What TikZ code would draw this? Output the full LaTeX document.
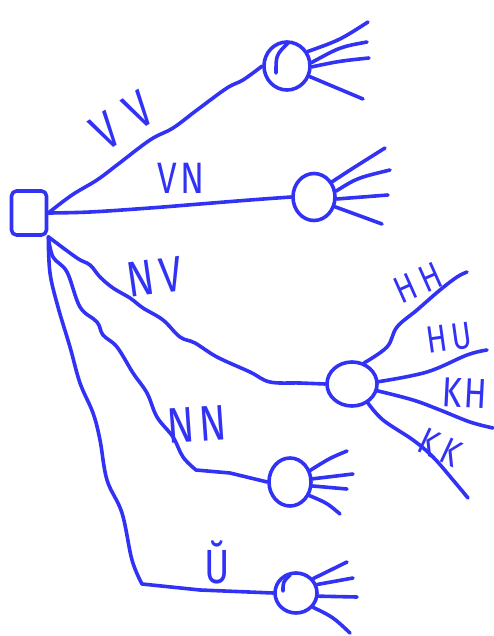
\documentclass[tikz,border=0pt]{standalone}
\usepackage{fontspec}
\setmainfont{Fira Sans}
\newfontfamily\hand{Fira Sans}[FakeStretch=0.8]
\usetikzlibrary{shapes.geometric}
\definecolor{ink}{RGB}{50,50,245}
\begin{document}
\begin{tikzpicture}[x=1pt,y=-1pt,line width=3.6pt,line cap=round,line join=round,
  hub/.style={draw=ink,ellipse,inner sep=0pt},
  branch/.style={draw=ink},
  ray/.style={draw=ink},
  lbl/.style={text=ink,font=\hand\fontsize{#1}{#1}\selectfont,inner sep=0pt}]
\useasboundingbox (0,0) rectangle (494,636);

% decision node
\node[draw=ink,rectangle,rounded corners=5pt,minimum width=35pt,minimum height=44pt] (root) at (29,213) {};

% chance nodes
\node[hub,minimum width=46pt,minimum height=48pt] (c1) at (287,66) {};
\node[hub,minimum width=42pt,minimum height=47pt] (c2) at (314,197) {};
\node[hub,minimum width=50pt,minimum height=44pt] (c3) at (352,384) {};
\node[hub,minimum width=42pt,minimum height=48pt] (c4) at (290,482) {};
\node[hub,minimum width=42pt,minimum height=40pt] (c5) at (296,593) {};

% small pen strokes inside the circles
\draw[ink] (276,73) .. controls (276,55) .. (288,43);
\draw[ink] (283,591) .. controls (283,582) .. (290,575);

% first-level branches
\draw[branch] plot[smooth,tension=0.6] coordinates {(root.east) (72,195) (97,180) (117,165) (150,140) (173,128) (197,110) (227,88) (243,80) (c1.west)};
\draw[branch] plot[smooth,tension=0.6] coordinates {(root.east) (90,212) (150,208) (200,204) (250,200) (c2.west)};
\draw[branch] plot[smooth,tension=0.6] coordinates {(root.south east) (77,258) (90,265) (100,277) (113,288) (130,298) (143,308) (163,320) (180,337) (195,343) (217,357) (250,372) (270,382) (300,383) (c3.west)};
\draw[branch] plot[smooth,tension=0.6] coordinates {(root.south east) (53,257) (67,272) (80,307) (97,322) (103,335) (117,347) (133,373) (147,393) (157,417) (173,437) (183,457) (196,470)} -- (230,473) -- (c4.west);
\draw[branch] plot[smooth,tension=0.6] coordinates {(root.south east) (50,273) (58,307) (70,347) (80,383) (93,413) (100,440) (107,480) (122,513) (132,560) (142,584)} -- (200,590) -- (c5.west);

% outcome rays
\draw[ray] (c1.35) .. controls (340,40) .. (368,22);
\draw[ray] (c1.8) .. controls (340,47) .. (367,42);
\draw[ray] (c1.-2) .. controls (340,61) .. (369,58);
\draw[ray] (c1.-25) .. controls (337,88) .. (363,99);

\draw[ray] (c2.40) .. controls (350,170) .. (385,148);
\draw[ray] (c2.15) .. controls (357,178) .. (390,170);
\draw[ray] (c2.-5) -- (388,195);
\draw[ray] (c2.-25) .. controls (363,217) .. (382,224);

\draw[ray] plot[smooth,tension=0.6] coordinates {(c3.60) (387,347) (397,327) (417,310) (440,290) (457,277) (467,272)};
\draw[ray] plot[smooth,tension=0.6] coordinates {(c3.5) (427,372) (467,355) (487,350)};
\draw[ray] plot[smooth,tension=0.6] coordinates {(c3.-15) (413,400) (440,410) (470,422) (493,428)};
\draw[ray] plot[smooth,tension=0.6] coordinates {(c3.-50) (383,420) (413,440) (433,457) (453,480) (468,498)};

\draw[ray] (c4.30) .. controls (330,458) .. (347,451);
\draw[ray] (c4.8) -- (353,474);
\draw[ray] (c4.-10) -- (347,489);
\draw[ray] (c4.-35) .. controls (327,503) .. (340,514);

\draw[ray] (c5.40) .. controls (330,570) .. (347,562);
\draw[ray] (c5.22) -- (353,578);
\draw[ray] (c5.-8) -- (357,597);
\draw[ray] (c5.-40) .. controls (333,617) .. (350,633);

% branch labels
\node[lbl=52,rotate=32] (lvv) at (122,121) {V\hspace{16pt}V};
\node[lbl=44] (lvn) at (181,178) {V\kern3pt N};
\node[lbl=50,rotate=8] (lnv) at (155,277) {N\kern6pt V};
\node[lbl=50,rotate=4] (lnn) at (197,424) {N\kern5pt N};
\node[lbl=48] (lu) at (217,562) {Ŭ};
\node[lbl=38,rotate=24] (lhh) at (418,283) {H\kern6pt H};
\node[lbl=38,rotate=8] (lhu) at (449,338) {H\kern4pt U};
\node[lbl=42,rotate=-3] (lkh) at (465,393) {K\kern2pt H};
\node[lbl=38,rotate=-25] (lkk) at (440,447) {K\kern6pt K};
\end{tikzpicture}
\end{document}
